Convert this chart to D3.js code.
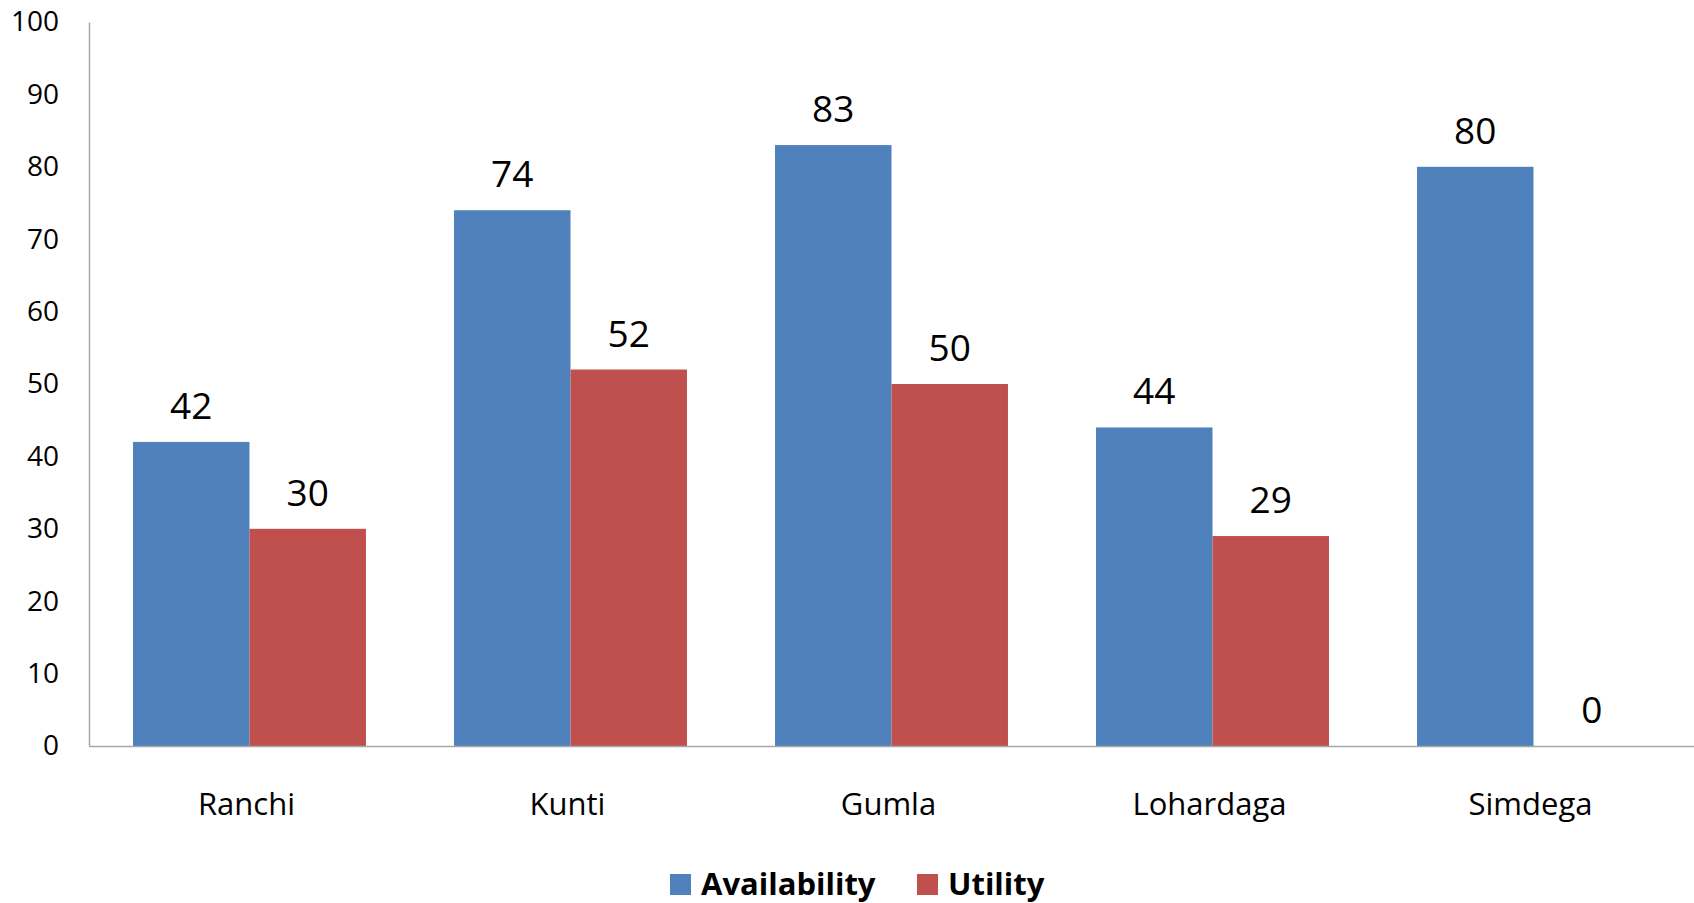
<!DOCTYPE html>
<html>
<head>
<meta charset="utf-8">
<script src="https://cdn.jsdelivr.net/npm/d3@7"></script>
<style>
  html, body { margin: 0; padding: 0; background: #fff; }
  svg { display: block; }
  text { font-family: "Open Sans", sans-serif; fill: #000; }
</style>
</head>
<body>
<script>
const categories = ["Ranchi", "Kunti", "Gumla", "Lohardaga", "Simdega"];
const seriesNames = ["Availability", "Utility"];
const availability = [42, 74, 83, 44, 80];
const utility = [30, 52, 50, 29, 0];
const yTicks = [0, 10, 20, 30, 40, 50, 60, 70, 80, 90, 100];
const colors = ["#4F81BD", "#C0504D"];

const W = 1694, H = 903;
const mLeft = 89, mRight = 1694, mTop = 22, mBottom = 746;

const svg = d3.select("body").append("svg").attr("width", W).attr("height", H);

const x0 = d3.scaleBand().domain(categories).range([mLeft, mRight]).padding(0);
const x1 = d3.scaleBand().domain(seriesNames).range([0, x0.bandwidth()])
  .paddingInner(0).paddingOuter(0.378);
const y = d3.scaleLinear().domain([0, 100]).range([mBottom, mTop]);

const values = [availability, utility];

seriesNames.forEach((s, si) => {
  const g = svg.append("g");
  g.selectAll("rect").data(categories).join("rect")
    .attr("x", c => x0(c) + x1(s))
    .attr("y", (c, i) => y(values[si][i]))
    .attr("width", x1.bandwidth())
    .attr("height", (c, i) => mBottom - y(values[si][i]))
    .attr("fill", colors[si]);
  g.selectAll("text").data(categories).join("text")
    .attr("x", c => x0(c) + x1(s) + x1.bandwidth() / 2)
    .attr("y", (c, i) => y(values[si][i]) - 23)
    .attr("text-anchor", "middle")
    .style("font-size", "37px")
    .text((c, i) => values[si][i]);
});

// y axis
const yAxis = d3.axisLeft(y).tickValues(yTicks).tickSize(0).tickPadding(30);
const yg = svg.append("g").attr("transform", `translate(${mLeft},0)`).call(yAxis);
yg.select(".domain").attr("stroke", "#A6A6A6").attr("stroke-width", 1.5);
yg.selectAll("text").style("font-size", "28px").style("font-family", "'Open Sans', sans-serif").attr("fill", "#000");

// x axis
const xAxis = d3.axisBottom(x0).tickSize(0).tickPadding(47);
const xg = svg.append("g").attr("transform", `translate(0,${mBottom})`).call(xAxis);
xg.select(".domain").attr("stroke", "#A6A6A6").attr("stroke-width", 1.5);
xg.selectAll("text").style("font-size", "31px").style("font-family", "'Open Sans', sans-serif").attr("fill", "#000")
  .attr("dx", -3);

// legend
const legendItems = [
  { name: seriesNames[0], color: colors[0], sx: 670, tx: 701 },
  { name: seriesNames[1], color: colors[1], sx: 917, tx: 948 }
];
const lg = svg.append("g");
legendItems.forEach(d => {
  lg.append("rect").attr("x", d.sx).attr("y", 874).attr("width", 21).attr("height", 21).attr("fill", d.color);
  lg.append("text").attr("x", d.tx).attr("y", 895)
    .style("font-size", "31px").style("font-weight", "bold").text(d.name);
});
</script>
</body>
</html>
